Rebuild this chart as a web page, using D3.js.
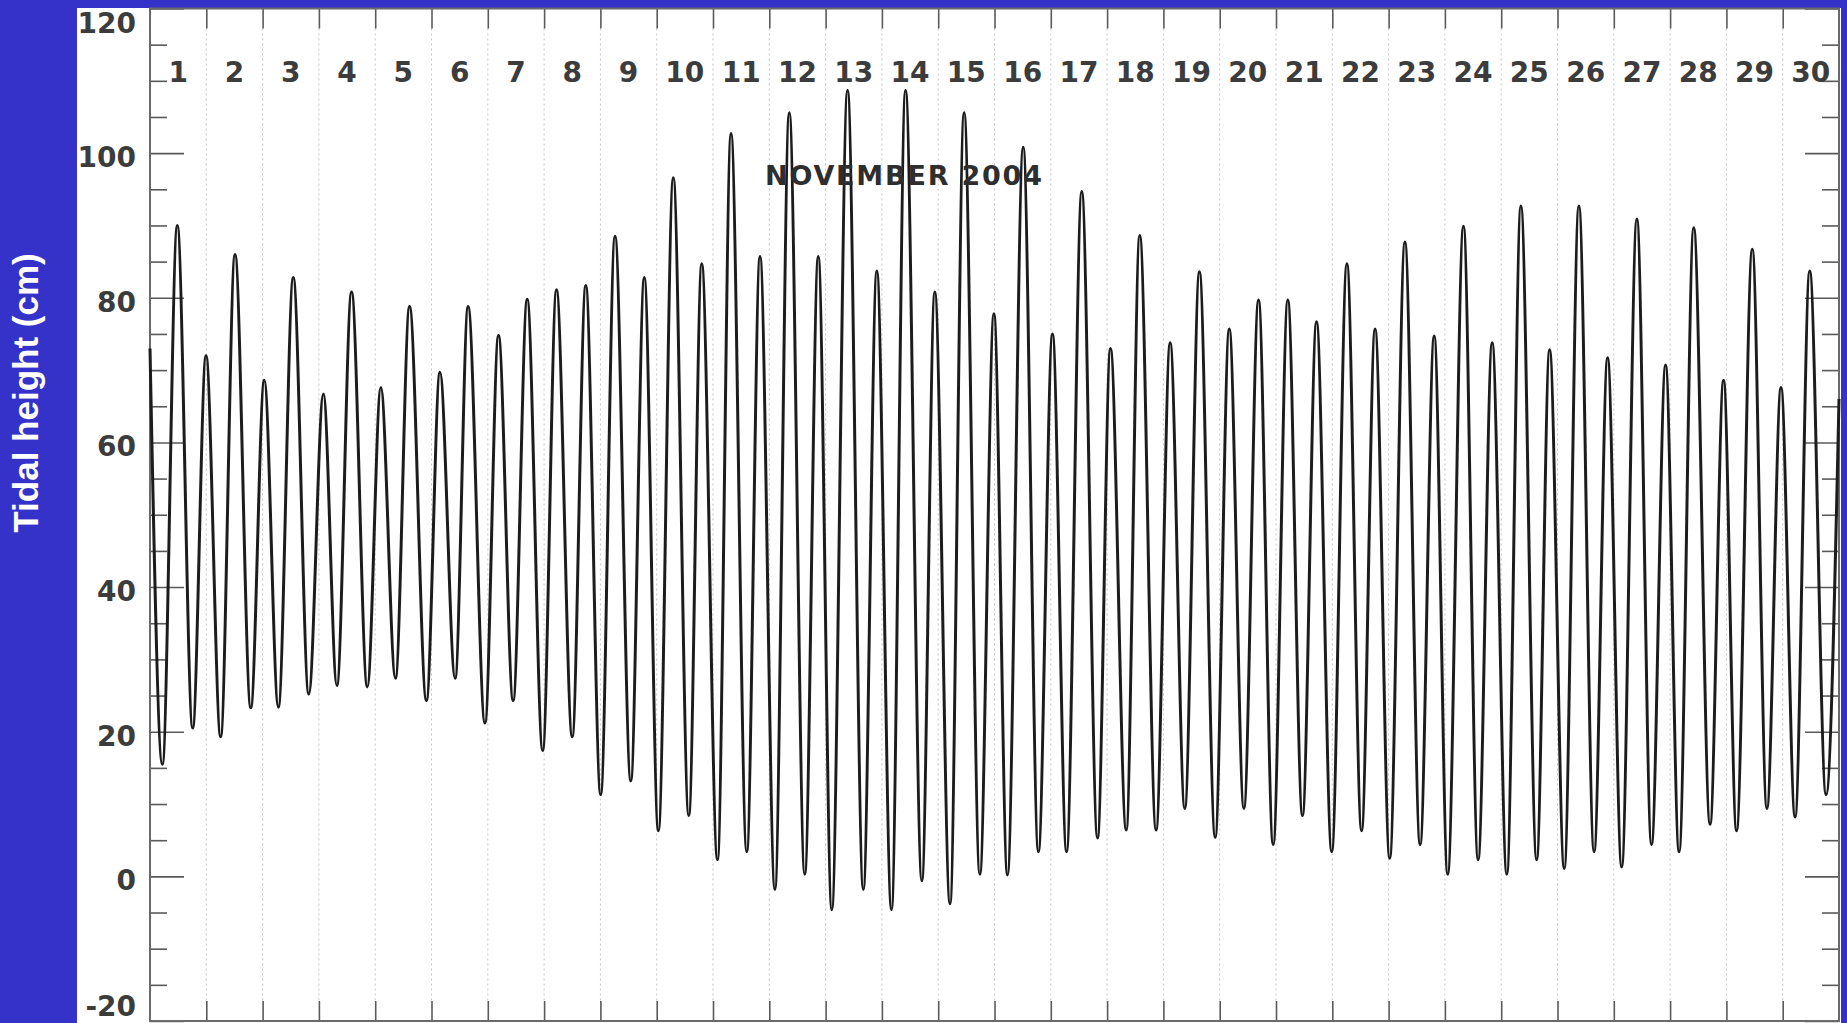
<!DOCTYPE html>
<html>
<head>
<meta charset="utf-8">
<script src="https://cdn.jsdelivr.net/npm/d3@7"></script>
<style>
    body { margin: 0; background: #3432c9; overflow: hidden; }
    svg { display: block; }
</style>
</head>
<body>
<div id="container"></div>
<script>
// tide extremes: time in days since 1 Nov 00:00, height in cm
const tideDay = [
    0, 0.22, 0.485, 0.758, 0.995, 1.255, 1.51, 1.79, 2.03, 2.28, 2.545, 2.82,
    3.08, 3.32, 3.58, 3.86, 4.10, 4.36, 4.61, 4.91, 5.15, 5.42, 5.65, 5.95,
    6.19, 6.45, 6.70, 6.975, 7.22, 7.50, 7.74, 8.005, 8.26, 8.54, 8.78, 9.03,
    9.295, 9.57, 9.80, 10.08, 10.32, 10.60, 10.835, 11.10, 11.355, 11.63, 11.87,
    12.11, 12.39, 12.67, 12.91, 13.17, 13.42, 13.71, 13.94, 14.21, 14.46, 14.74,
    14.99, 15.23, 15.51, 15.78, 16.03, 16.28, 16.55, 16.83, 17.06, 17.34, 17.58, 17.87,
    18.12, 18.38, 18.64, 18.92, 19.17, 19.43, 19.69, 19.95, 20.21, 20.47, 20.72, 20.99,
    21.26, 21.52, 21.76, 22.02, 22.29, 22.56, 22.81, 23.05, 23.33, 23.59, 23.84, 24.10,
    24.35, 24.63, 24.86, 25.12, 25.38, 25.65, 25.89, 26.14, 26.41, 26.67, 26.92, 27.16,
    27.42, 27.71, 27.95, 28.18, 28.46, 28.72, 28.97, 29.22, 29.48, 29.77, 30.0
]
const tideCm = [
    73, 15.5, 90, 20.5, 72, 19.3, 86, 23.3, 68.6, 23.4, 82.8, 25.2,
    66.7, 26.4, 80.8, 26.2, 67.6, 27.4, 78.8, 24.3, 69.7, 27.4, 78.8, 21.2,
    74.8, 24.3, 79.8, 17.4, 81.1, 19.3, 81.7, 11.3, 88.5, 13.2, 82.8, 6.3,
    96.6, 8.4, 84.7, 2.3, 102.7, 3.4, 85.7, -1.8, 105.6, 0.3, 85.7,
    -4.6, 108.7, -1.8, 83.7, -4.6, 108.7, -0.6, 80.8, -3.8, 105.6, 0.3,
    77.8, 0.2, 100.8, 3.4, 75.0, 3.4, 94.7, 5.3, 73.0, 6.4, 88.6, 6.4,
    73.8, 9.4, 83.6, 5.4, 75.7, 9.4, 79.7, 4.4, 79.7, 8.4, 76.7, 3.4,
    84.7, 6.3, 75.7, 2.5, 87.7, 4.4, 74.7, 0.3, 89.9, 2.3, 73.8, 0.3,
    92.7, 2.3, 72.8, 1.1, 92.7, 3.4, 71.7, 1.3, 90.9, 4.4, 70.7, 3.4,
    89.7, 7.2, 68.6, 6.3, 86.7, 9.4, 67.6, 8.2, 83.7, 11.3, 66
]
const dayLabels = d3.range(1, 31).map(String)
const yMajor = [-20, 0, 20, 40, 60, 80, 100, 120]
const yMinor = d3.range(-20, 121, 5).filter(v => v % 20 !== 0)
const titleText = "NOVEMBER 2004"
const yTitle = "Tidal height (cm)"

const width = 1847
const height = 1023
const plot = { left: 150, right: 1839, top: 8.5, bottom: 1021 }
const axisColor = "#5a5a5a"
const labelColor = "#3c3c3c"
const labelFont = "'DejaVu Sans', sans-serif"

const svg = d3.select('#container')
    .append('svg').attr('width', width).attr('height', height)

// white panel on the blue slide
svg.append("rect")
    .attr("x", 77).attr("y", 8)
    .attr("width", 1841 - 77).attr("height", height - 8)
    .attr("fill", "#ffffff")

const xScale = d3.scaleLinear().domain([0, 30]).range([plot.left, plot.right])
const yScale = d3.scaleLinear().domain([-20, 120]).range([plot.bottom, plot.top])

const days = d3.range(1, 30)

// dotted day separators
svg.append("g").selectAll("line")
    .data(days).join("line")
    .attr("x1", d => xScale(d)).attr("x2", d => xScale(d))
    .attr("y1", plot.top + 20).attr("y2", plot.bottom - 20)
    .attr("stroke", "#c4c4c4")
    .attr("stroke-width", 1)
    .attr("stroke-dasharray", "2,3")

const styleAxis = (g) => {
    g.select(".domain").remove()
    g.selectAll(".tick line").attr("stroke", axisColor).attr("stroke-width", 1.6)
    g.selectAll(".tick text").remove()
}

// day ticks, top and bottom, pointing inward
svg.append("g").attr("transform", `translate(0,${plot.top})`)
    .call(d3.axisTop(xScale).tickValues(days).tickSize(-20)).call(styleAxis)
svg.append("g").attr("transform", `translate(0,${plot.bottom})`)
    .call(d3.axisBottom(xScale).tickValues(days).tickSize(-20)).call(styleAxis)

// height ticks on both sides
svg.append("g").attr("transform", `translate(${plot.left},0)`)
    .call(d3.axisLeft(yScale).tickValues(yMajor).tickSize(-34)).call(styleAxis)
svg.append("g").attr("transform", `translate(${plot.left},0)`)
    .call(d3.axisLeft(yScale).tickValues(yMinor).tickSize(-17)).call(styleAxis)
svg.append("g").attr("transform", `translate(${plot.right},0)`)
    .call(d3.axisRight(yScale).tickValues(yMajor).tickSize(-34)).call(styleAxis)
svg.append("g").attr("transform", `translate(${plot.right},0)`)
    .call(d3.axisRight(yScale).tickValues(yMinor).tickSize(-17)).call(styleAxis)

// frame
svg.append("rect")
    .attr("x", plot.left).attr("y", plot.top)
    .attr("width", plot.right - plot.left).attr("height", plot.bottom - plot.top)
    .attr("fill", "none")
    .attr("stroke", "#6a6a6a")
    .attr("stroke-width", 2)

// y tick labels (pushed inside the panel at both ends)
svg.append("g").selectAll("text")
    .data(yMajor).join("text")
    .attr("x", 136)
    .attr("y", d => Math.max(33, Math.min(1016, yScale(d) + 14)))
    .attr("text-anchor", "end")
    .attr("font-family", labelFont)
    .attr("font-weight", "bold")
    .attr("font-size", 28)
    .attr("fill", labelColor)
    .text(d => d)

// day numbers centred in each day
svg.append("g").selectAll("text")
    .data(dayLabels).join("text")
    .attr("x", (d, i) => xScale(i + 0.5))
    .attr("y", 82)
    .attr("text-anchor", "middle")
    .attr("font-family", labelFont)
    .attr("font-weight", "bold")
    .attr("font-size", 28)
    .attr("fill", labelColor)
    .text(d => d)

// tide curve through the extremes
const line = d3.line()
    .x((d, i) => xScale(tideDay[i]))
    .y(d => yScale(d))
    .curve(d3.curveMonotoneX)

svg.append("path")
    .attr("d", line(tideCm))
    .attr("fill", "none")
    .attr("stroke", "#1c1c1c")
    .attr("stroke-width", 3)
    .attr("stroke-linejoin", "round")

svg.append("text")
    .attr("x", 765).attr("y", 185)
    .attr("font-family", labelFont)
    .attr("font-weight", "bold")
    .attr("font-size", 27)
    .attr("textLength", 277)
    .attr("fill", "#2e2e2e")
    .text(titleText)

svg.append("text")
    .attr("transform", "translate(38,393) rotate(-90)")
    .attr("text-anchor", "middle")
    .attr("font-family", "'Liberation Sans', Arial, sans-serif")
    .attr("font-weight", "bold")
    .attr("font-size", 35)
    .attr("fill", "#ffffff")
    .text(yTitle)
</script>
</body>
</html>
